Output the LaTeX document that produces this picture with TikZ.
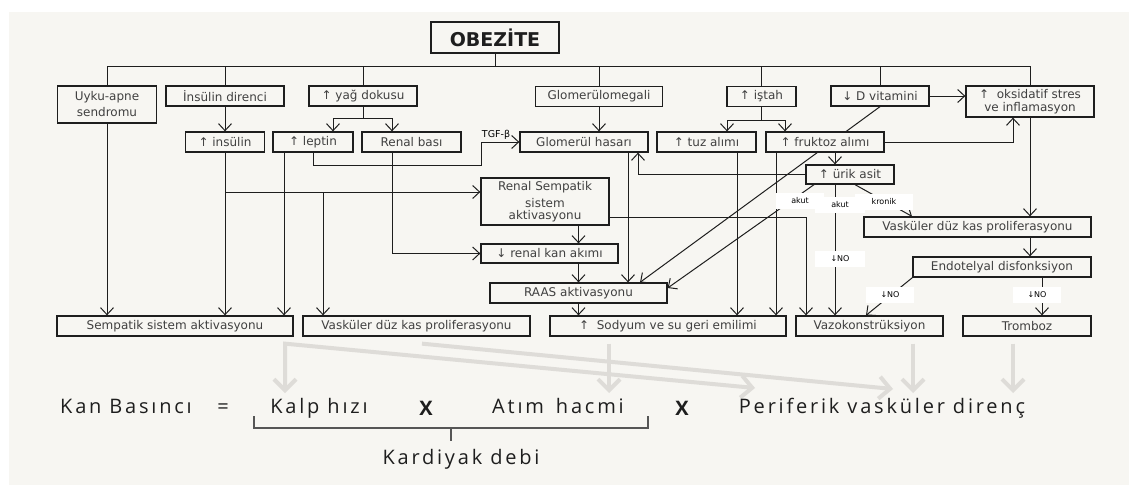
\documentclass[tikz,border=0pt]{standalone}
\usepackage{fontspec}
\setmainfont{DejaVu Sans}
\newfontfamily\eqfont[LetterSpace=14]{Open Sans}
\usetikzlibrary{arrows.meta,positioning,calc}
\definecolor{paper}{HTML}{F7F6F2}
\definecolor{ink}{HTML}{1E1E1E}
\definecolor{ghost}{HTML}{DEDCD8}
\pgfdeclarelayer{back}
\pgfdeclarelayer{wires}
\pgfsetlayers{back,wires,main}

\begin{document}
\begin{tikzpicture}[
  x=1pt, y=-1pt,
  font=\fontsize{12}{14}\selectfont,
  line/.style={draw=ink, line width=1pt, -{Straight Barb[length=7pt,width=13pt]}},
  wire/.style={draw=ink, line width=1pt},
  sz/.style 2 args={minimum width=#1pt, minimum height=#2pt},
  box/.style={draw=ink, line width=1.3pt, fill=paper, align=center,
    inner sep=1pt, text=ink!85},
  topbox/.style={box, text=ink, font=\bfseries\fontsize{19}{22}\selectfont},
  tag/.style={fill=white, inner sep=1pt, minimum width=48pt,
    minimum height=16pt, font=\fontsize{8}{9}\selectfont},
  ghostline/.style={draw=ghost, line width=4pt, line join=miter,
    -{Straight Barb[length=11pt,width=22pt]}},
  ghostboth/.style={ghostline,
    {Straight Barb[length=11pt,width=22pt]}-{Straight Barb[length=11pt,width=22pt]}},
  eq/.style={inner sep=0pt, anchor=base, text=ink,
    font=\eqfont\fontsize{20}{24}\selectfont},
  eqx/.style={eq, font=\eqfont\bfseries\fontsize{20}{24}\selectfont},
  brace/.style={draw=ink!75, line width=1.4pt}
]
\useasboundingbox (0,0) rectangle (1129,485);
\begin{pgfonlayer}{back}
  \fill[white] (0,0) rectangle (1129,485);
  \fill[paper] (9,12) rectangle (1129,485);
\end{pgfonlayer}

% Top node
\node[topbox, sz={128}{31}] (obez) at (495,37.5) {OBEZİTE};
\coordinate (trunk) at (495,66);

% First row
\node[box, sz={99}{37}] (uyku) at (107,104.5) {Uyku-apne\\[2pt]sendromu};
\node[box, sz={118}{20}] (insdir) at (225,96) {İnsülin direnci};
\node[box, sz={108}{20}] (yag) at (363,96) {↑ yağ dokusu};
\node[box, sz={127}{20}] (glomeg) at (599,96.5) {Glomerülomegali};
\node[box, sz={69}{20}] (istah) at (761.5,96.5) {↑ iştah};
\node[box, sz={98}{20}] (dvit) at (880,96) {↓ D vitamini};
\node[box, sz={128}{31}, font=\fontsize{12}{13}\selectfont] (oks) at (1030,101.5)
  {↑\ \ oksidatif stres\\ve inflamasyon};

% Second row
\node[box, sz={79}{20}] (insu) at (225,142) {↑ insülin};
\node[box, sz={80}{20}] (lep) at (313,142) {↑ leptin};
\node[box, sz={99}{20}] (rbasi) at (411.5,142) {Renal bası};
\node[box, sz={128}{20}] (glomhas) at (584,142) {Glomerül hasarı};
\node[box, sz={99}{20}] (tuz) at (706.5,142) {↑ tuz alımı};
\node[box, sz={118}{20}] (fruk) at (825,142) {↑ fruktoz alımı};

% Middle
\node[box, sz={88}{19}] (urik) at (850,174.5) {↑ ürik asit};
\node[box, sz={128}{47}, font=\fontsize{12}{11.5}\selectfont] (rsemp) at (545,201.5)
  {Renal Sempatik\\[5pt]sistem\\aktivasyonu};
\node[box, sz={137}{19}] (rkan) at (549.5,253.5) {↓ renal kan akımı};
\node[box, sz={177}{20}] (raas) at (578.5,293) {RAAS aktivasyonu};
\node[box, sz={227}{20}] (vasc2) at (977.5,227) {Vasküler düz kas proliferasyonu};
\node[box, sz={178}{20}] (endo) at (1002,267) {Endotelyal disfonksiyon};

% Bottom row
\node[box, sz={236}{20}] (semp) at (175,326) {Sempatik sistem aktivasyonu};
\node[box, sz={227}{20}] (vasc1) at (416.5,326) {Vasküler düz kas proliferasyonu};
\node[box, sz={236}{20}] (sod) at (668,326) {↑\ \ Sodyum ve su geri emilimi};
\node[box, sz={147}{20}] (vazo) at (869.5,326) {Vazokonstrüksiyon};
\node[box, sz={128}{20}] (trom) at (1027,326) {Tromboz};

% Labels on connectors
\node[font=\fontsize{9.5}{10}\selectfont] (tgfb) at (496,135) {TGF-β};
\node[tag] (akut1) at (800,201) {akut};
\node[tag, minimum width=50pt] (akut2) at (840,205) {akut};
\node[tag, minimum width=58pt] (kron) at (884,202) {kronik};
\node[tag, minimum width=50pt] (no1) at (840,259) {↓NO};
\node[tag] (no2) at (890,295) {↓NO};
\node[tag] (no3) at (1037,295) {↓NO};

% Formula
\node[eq] (kb) at (126,413) {Kan Basıncı};
\node[eq] (esit) at (223,413) {=};
\node[eq] (kalp) at (319,413) {Kalp hızı};
\node[eqx] (x1) at (426,415) {X};
\node[eq] (atim) at (558,413) {Atım\hspace{12pt}hacmi};
\node[eqx] (x2) at (682,415) {X};
\node[eq] (pvd) at (882,413) {Periferik vasküler direnç};
\node[eq] (kd) at (461,464) {Kardiyak debi};

\begin{pgfonlayer}{wires}
% Trunk and branches
\draw[wire] (obez.south) -- (trunk);
\draw[wire] (trunk -| uyku.north) -- (trunk -| oks.north);
\foreach \n in {uyku,insdir,yag,glomeg,istah,dvit,oks}
  \draw[wire] (trunk -| \n.north) -- (\n.north);

% Left column
\draw[line] (uyku.south) -- (uyku.south |- semp.north);
\draw[line] (insdir.south) -- (insu.north);
\draw[line] (insu.south) -- (insu.south |- semp.north);
\coordinate (rsin) at ($(rsemp.west)+(0,-9.5)$);
\draw[line] (insu.south |- rsin) -- (rsin);
\coordinate (vdrop) at (323,192);
\draw[line] (vdrop) -- (vdrop |- vasc1.north);

% Fat tissue
\draw[wire] (yag.south) -- ++(0,12) coordinate (yagsp);
\draw[line] (yagsp) -| ($(lep.north)+(20,0)$);
\draw[line] (yagsp) -| ($(rbasi.north)+(-19.5,0)$);
\draw[line] ($(lep.south)+(-29,0)$) -- ($(lep.south |- semp.north)+(-29,0)$);
\coordinate (tgf) at (481,165);
\draw[line] (lep.south) |- (tgf) |- (glomhas.west);
\draw[line] ($(rbasi.south)+(-19.5,0)$) |- (rkan.west);

% Renal chain
\draw[line] (rsemp.south -| raas.north) -- (rkan.north -| raas.north);
\draw[line] (rkan.south -| raas.north) -- (raas.north);
\draw[line] (raas.south) -- (raas.south |- sod.north);
\draw[line] ($(rsemp.east)+(0,15.5)$) -| ($(vazo.north)+(-63.5,0)$);

% Glomerulus
\draw[line] (glomeg.south) -- (glomeg.south |- glomhas.north);
\draw[line] ($(glomhas.south)+(44,0)$) -- ($(glomhas.south |- raas.north)+(44,0)$);
\draw[line] (urik.west) -| ($(glomhas.south)+(54,0)$);

% Appetite
\draw[wire] (istah.south) -- ++(0,13) coordinate (istsp);
\draw[line] (istsp) -| ($(tuz.north)+(20.5,0)$);
\draw[line] (istsp) -| ($(fruk.north)+(-40,0)$);
\draw[line] ($(tuz.south)+(30.5,0)$) -- ($(tuz.south |- sod.north)+(30.5,0)$);
\draw[line] ($(fruk.south)+(-49,0)$) -- ($(fruk.south |- sod.north)+(-49,0)$);
\draw[line] ($(fruk.south)+(10,0)$) -- ($(urik.north)+(-15,0)$);
\draw[line] (fruk.east) -| ($(oks.south)+(-17,0)$);

% Vitamin D
\draw[line] (dvit.east) -- (dvit.east -| oks.west);
\draw[line] (dvit.south) -- ($(raas.north)+(61.5,0)$);

% Uric acid
\draw[line] ($(urik.south)+(-36,0)$) -- ($(raas.east)+(0,-5)$);
\draw[line] ($(urik.south)+(-15,0)$) -- ($(urik.south |- vazo.north)+(-15,0)$);
\draw[line] ($(urik.south)+(5,0)$) -- ($(vasc2.north)+(-65.5,0)$);

% Right column
\draw[line] (oks.south) -- (oks.south |- vasc2.north);
\draw[line] (oks.south |- vasc2.south) -- (oks.south |- endo.north);
\draw[line] (endo.south west) -- ($(vazo.north)+(-3.5,0)$);
\draw[line] ($(endo.south)+(40,0)$) -- ($(endo.south |- trom.north)+(40,0)$);

% Light arrows to the formula
\coordinate (gs) at ($(semp.south)+(110,7)$);
\coordinate (gv) at ($(vasc1.south)+(5.5,7)$);
\coordinate (gn) at ($(sod.south)+(-59,7)$);
\coordinate (gz) at ($(vazo.south)+(43.5,7)$);
\coordinate (gt) at ($(trom.south)+(-14,7)$);
\coordinate (tipy) at (0,393);
\coordinate (pvdL) at (755,388);
\coordinate (pvdR) at (893,389);
\draw[ghostboth] (pvdL) -- (gs) -- (gs |- tipy);
\draw[ghostline] (gv) -- (pvdR);
\draw[ghostline] (gn) -- (gn |- tipy);
\draw[ghostline] (gz) -- (gz |- tipy);
\draw[ghostline] (gt) -- (gt |- tipy);

% Cardiac output bracket
\coordinate (brL) at (254,416);
\coordinate (brR) at (648,416);
\draw[brace] (brL) -- ++(0,12) -| (brR);
\draw[brace] ($(brL)+(197,12)$) -- ++(0,13);
\end{pgfonlayer}

\end{tikzpicture}
\end{document}
